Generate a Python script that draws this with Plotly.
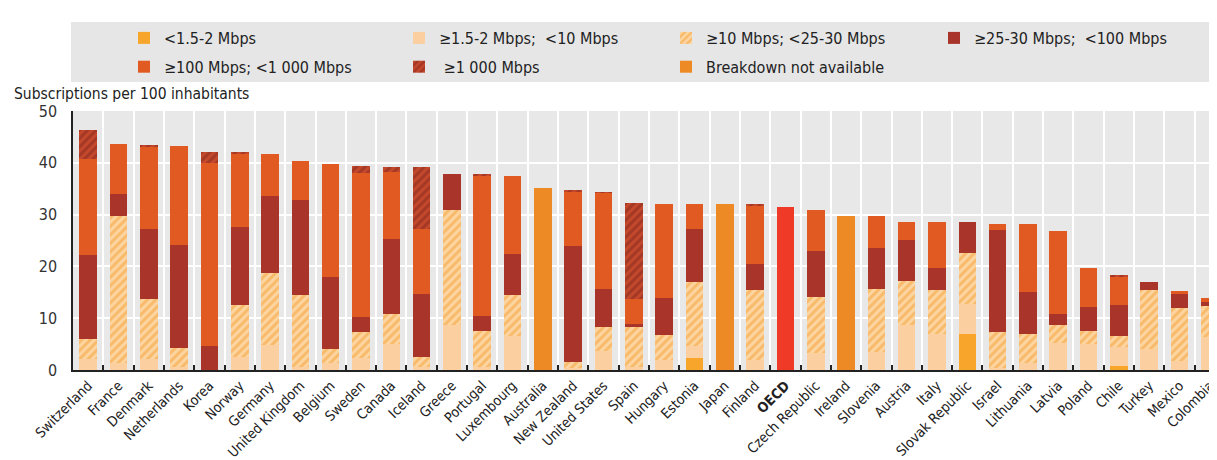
import plotly.graph_objects as go

countries = ["Switzerland", "France", "Denmark", "Netherlands", "Korea", "Norway", "Germany",
             "United Kingdom", "Belgium", "Sweden", "Canada", "Iceland", "Greece", "Portugal",
             "Luxembourg", "Australia", "New Zealand", "United States", "Spain", "Hungary",
             "Estonia", "Japan", "Finland", "OECD", "Czech Republic", "Ireland", "Slovenia",
             "Austria", "Italy", "Slovak Republic", "Israel", "Lithuania", "Latvia", "Poland",
             "Chile", "Turkey", "Mexico", "Colombia"]

# Subscriptions per 100 inhabitants by speed tier (bottom to top of each stack)
lt2 = [0, 0, 0, 0, 0, 0, 0, 0, 0, 0, 0, 0, 0, 0, 0, 0, 0, 0, 0, 0,
       2.4, 0, 0, 0, 0, 0, 0, 0, 0, 6.9, 0, 0, 0, 0, 0.8, 0, 0, 0]
s2_10 = [2.2, 1.3, 2.2, 0.5, 0, 2.6, 4.9, 0.5, 1.3, 2.4, 5.1, 0.5, 8.7, 0.5, 6.5, 0, 0.4, 3.7, 0.6, 1.9,
         2.2, 0, 1.9, 0, 3.3, 0, 3.5, 8.7, 6.9, 5.9, 0.3, 1.3, 5.3, 5.0, 3.6, 4.0, 1.7, 6.4]
s10_25 = [3.8, 28.5, 11.5, 3.8, 0, 9.9, 13.9, 13.9, 2.7, 4.9, 5.8, 2.1, 22.2, 7.0, 7.9, 0, 1.2, 4.6, 7.7, 4.8,
          12.3, 0, 13.6, 0, 10.8, 0, 12.1, 8.5, 8.5, 9.8, 7.0, 5.6, 3.4, 2.5, 2.1, 11.4, 10.2, 6.0]
s25_100 = [16.2, 4.2, 13.5, 19.9, 4.7, 15.1, 14.7, 18.4, 13.9, 3.0, 14.4, 12.1, 6.9, 2.9, 7.9, 0, 22.4, 7.4, 0.5, 7.2,
           10.3, 0, 4.9, 0, 8.8, 0, 8.0, 7.9, 4.3, 5.9, 19.8, 8.2, 2.2, 4.6, 6.0, 1.6, 2.7, 0.8]
s100_1000 = [18.6, 9.7, 15.9, 19.0, 35.3, 14.1, 8.2, 7.6, 21.8, 27.8, 13.0, 12.5, 0, 27.1, 15.1, 0, 10.4, 18.5, 4.9, 18.2,
             4.9, 0, 11.3, 0, 7.9, 0, 6.2, 3.4, 8.8, 0, 1.1, 13.1, 15.9, 7.6, 5.6, 0, 0.7, 0.7]
s1000 = [5.5, 0, 0.4, 0, 2.1, 0.3, 0, 0, 0, 1.2, 0.8, 11.9, 0, 0.2, 0, 0, 0.2, 0.1, 18.6, 0,
         0, 0, 0.2, 0, 0, 0, 0, 0, 0, 0, 0, 0, 0, 0, 0.2, 0, 0, 0]
not_avail = [0, 0, 0, 0, 0, 0, 0, 0, 0, 0, 0, 0, 0, 0, 0, 35.1, 0, 0, 0, 0,
             0, 32.1, 0, 0, 0, 29.8, 0, 0, 0, 0, 0, 0, 0, 0, 0, 0, 0, 0]
oecd_total = [0] * 23 + [31.4] + [0] * 14

tick_text = ["<b>OECD</b>" if c == "OECD" else c for c in countries]

FONT = "Liberation Sans Narrow, Arial Narrow, DejaVu Sans Condensed, sans-serif"

series = [
    ("<1.5-2 Mbps", lt2, dict(color="#F7A52B"), "legend"),
    ("≥1.5-2 Mbps;  <10 Mbps", s2_10, dict(color="#FBCF9F"), "legend2"),
    ("≥10 Mbps; <25-30 Mbps", s10_25,
     dict(color="#FCD5A2", pattern=dict(shape="/", fgcolor="#F3A032", bgcolor="#FCD5A2", size=6, solidity=0.5)),
     "legend3"),
    ("≥25-30 Mbps;  <100 Mbps", s25_100, dict(color="#A8342A"), "legend4"),
    ("≥100 Mbps; <1 000 Mbps", s100_1000, dict(color="#E05A22"), "legend"),
    (" ≥1 000 Mbps", s1000,
     dict(color="#C4482C", pattern=dict(shape="/", fgcolor="#82271E", bgcolor="#C4482C", size=6, solidity=0.5)),
     "legend2"),
    ("Breakdown not available", not_avail, dict(color="#EE8A25"), "legend3"),
]

fig = go.Figure()
for i, (name, vals, marker, lg) in enumerate(series):
    fig.add_trace(go.Bar(x=countries, y=vals, name=name, marker=dict(line=dict(width=0), **marker),
                         legend=lg, legendgroup="g%d" % i))
fig.add_trace(go.Bar(x=countries, y=oecd_total, name="OECD", marker=dict(color="#EE3A26", line=dict(width=0)),
                     showlegend=False))

W, H = 1217, 460
W0, W1, H0, H1 = 65, 1217, 103, 362


def px(x):
    return (x - W0) / (W1 - W0)


def py(y):
    return (H1 - y) / (H1 - H0)


leg_common = dict(orientation="v", bgcolor="rgba(0,0,0,0)", font=dict(family=FONT, size=16, color="#222"),
                  xref="container", yref="container", yanchor="top", xanchor="left",
                  y=1 - 13 / H, tracegroupgap=5, itemclick=False)

fig.update_layout(
    width=W, height=H,
    margin=dict(l=W0, r=W - W1, t=H0, b=H - H1, autoexpand=False),
    barmode="stack", bargap=0.42,
    plot_bgcolor="#E8E8E8", paper_bgcolor="white",
    font=dict(family=FONT, size=15, color="#222"),
    legend=dict(x=116 / W, **leg_common),
    legend2=dict(x=391 / W, **leg_common),
    legend3=dict(x=658 / W, **leg_common),
    legend4=dict(x=926 / W, **leg_common),
    xaxis=dict(tickmode="array", tickvals=countries, ticktext=tick_text, tickangle=-45,
               tickson="boundaries", ticks="inside", ticklen=5, tickcolor="#222", tickwidth=1.5,
               showgrid=True, gridcolor="white", gridwidth=2, automargin=False,
               showline=True, linecolor="#222", linewidth=2,
               tickfont=dict(family=FONT, size=14, color="#222")),
    yaxis=dict(range=[0, 50], dtick=10, showgrid=True, gridcolor="white", gridwidth=2,
               showline=True, linecolor="#222", linewidth=1.5, zeroline=False, automargin=False,
               ticklabelstandoff=11,
               tickfont=dict(family=FONT, size=16, color="#333")),
    shapes=[dict(type="rect", xref="paper", yref="paper", x0=px(63), x1=1.0, y0=py(74), y1=py(14),
                 fillcolor="#E6E6E6", line=dict(width=0), layer="below")],
    annotations=[dict(text="Subscriptions per 100 inhabitants", xref="paper", yref="paper",
                      x=px(4), y=py(86), xanchor="left", yanchor="middle", showarrow=False,
                      font=dict(family=FONT, size=15.5, color="#222"))],
)

fig.write_html("out.html")
